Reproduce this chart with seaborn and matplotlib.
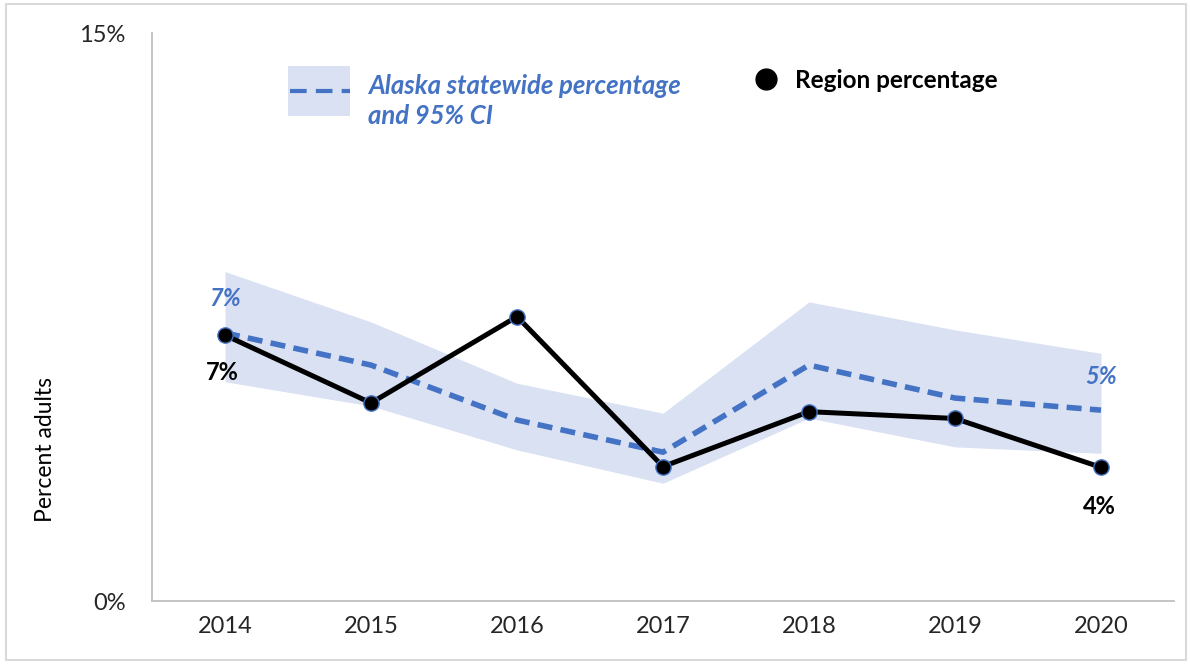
import numpy as np
import pandas as pd
import matplotlib
matplotlib.use("Agg")
import matplotlib.pyplot as plt
import seaborn as sns
from matplotlib.patches import Rectangle
from matplotlib.lines import Line2D

# ---- data ----
years = ["2014", "2015", "2016", "2017", "2018", "2019", "2020"]
region_pct = [7.02, 5.23, 7.51, 3.55, 5.00, 4.82, 3.53]
state_pct = [7.08, 6.23, 4.78, 3.93, 6.23, 5.36, 5.04]
state_ci_low = [5.79, 5.15, 3.99, 3.11, 4.83, 4.07, 3.90]
state_ci_high = [8.70, 7.37, 5.75, 4.96, 7.90, 7.16, 6.54]
y_ticks = [0, 15]
y_tick_labels = ["0%", "15%"]
legend_state = "Alaska statewide percentage\nand 95% CI"
legend_region = "Region percentage"
y_title = "Percent adults"

BLUE = "#4472C4"
BAND = "#D9E1F2"
GREY = "#BFBFBF"

sns.set_style("white")
plt.rcParams['font.family'] = ['Lato', 'DejaVu Sans']

W, H = 1190, 664
fig = plt.figure(figsize=(W / 100, H / 100), dpi=100)


def fx(x):
    return x / W


def fy(y):
    return 1 - y / H


ax = fig.add_axes([fx(152), fy(601), (1174 - 152) / W, (601 - 33) / H])

df = pd.DataFrame({
    "pos": np.arange(len(years)),
    "year": years,
    "region": region_pct,
    "state": state_pct,
    "lo": state_ci_low,
    "hi": state_ci_high,
})

ax.fill_between(df["pos"], df["lo"], df["hi"], color=BAND, lw=0, zorder=1)
sns.lineplot(data=df, x="pos", y="state", ax=ax, color=BLUE, lw=4,
             linestyle=(0, (2.7, 1.5)), zorder=2)
sns.lineplot(data=df, x="pos", y="region", ax=ax, color="black", lw=3.6,
             marker="o", markersize=11, markerfacecolor="black",
             markeredgecolor=BLUE, markeredgewidth=1.0, zorder=3)

ax.set_xlim(-0.5, len(years) - 0.5)
ax.set_ylim(0, 15)
ax.set_xlabel("")
ax.set_ylabel("")

ax.set_xticks(df["pos"])
ax.set_xticklabels(years, fontsize=17, color="#262626")
ax.set_xticks(np.arange(-0.5, len(years), 1.0), minor=True)
ax.tick_params(axis="x", which="major", length=0, pad=11)
ax.tick_params(axis="x", which="minor", length=8, width=1.2, color=GREY, direction="out")
ax.set_yticks(y_ticks)
ax.set_yticklabels(y_tick_labels, fontsize=17, color="#262626")
ax.tick_params(axis="y", length=0, pad=19)

for s in ["top", "right"]:
    ax.spines[s].set_visible(False)
for s in ["left", "bottom"]:
    ax.spines[s].set_color(GREY)
    ax.spines[s].set_linewidth(1.3)

# data labels
first, last = 0, len(years) - 1
ax.annotate(f"{round(state_pct[first])}%", (first, state_pct[first]), xytext=(0, 25),
            textcoords="offset points", ha="center", va="center", color=BLUE,
            fontsize=17, fontweight="bold", fontstyle="italic")
ax.annotate(f"{round(region_pct[first])}%", (first, region_pct[first]), xytext=(-2, -27),
            textcoords="offset points", ha="center", va="center", color="black",
            fontsize=17, fontweight="bold")
ax.annotate(f"{round(state_pct[last])}%", (last, state_pct[last]), xytext=(0, 24),
            textcoords="offset points", ha="center", va="center", color=BLUE,
            fontsize=17, fontweight="bold", fontstyle="italic")
ax.annotate(f"{round(region_pct[last])}%", (last, region_pct[last]), xytext=(-1, -28),
            textcoords="offset points", ha="center", va="center", color="black",
            fontsize=17, fontweight="bold")

# y title
fig.text(fx(45), fy(449), y_title, rotation=90, ha="center", va="center",
         fontsize=16.5, color="black")

# legend keys (figure coordinates)
fig.add_artist(Rectangle((fx(288), fy(116)), (350 - 288) / W, (116 - 66) / H,
                         transform=fig.transFigure, facecolor=BAND, edgecolor="none"))
fig.add_artist(Line2D([fx(290), fx(350)], [fy(91), fy(91)], transform=fig.transFigure,
                      color=BLUE, lw=3, linestyle=(0, (4.0, 2.2))))
fig.text(fx(368), fy(101), legend_state, ha="left", va="center", color=BLUE,
         fontsize=18.5, fontweight="bold", fontstyle="italic", linespacing=1.28)
fig.add_artist(Line2D([fx(766)], [fy(79)], transform=fig.transFigure, marker="o",
                      markersize=15, color="black", lw=0))
fig.text(fx(795), fy(81), legend_region, ha="left", va="center", color="black",
         fontsize=17.5, fontweight="bold")

# outer border
fig.add_artist(Rectangle((fx(6), fy(660)), (1186 - 6) / W, (660 - 4) / H,
                         transform=fig.transFigure, fill=False, edgecolor="#D9D9D9", lw=1.5))

fig.savefig("out.png", dpi=100)
